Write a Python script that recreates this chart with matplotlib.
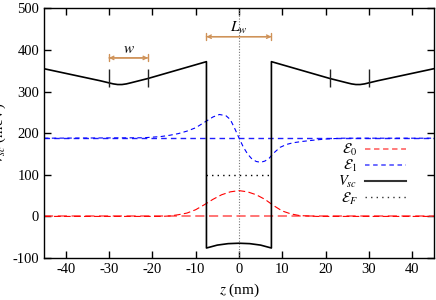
import matplotlib
matplotlib.use("Agg")
import matplotlib.pyplot as plt

plt.rcParams['font.family'] = ['Liberation Serif', 'DejaVu Serif']
plt.rcParams['mathtext.fontset'] = 'stix'
plt.rcParams['axes.unicode_minus'] = False

# self-consistent potential V_sc (meV)
vsc_z = [-45, -32, -30, -29, -28, -27, -26, -25, -21, -7.5, -7.5, -5, -2.5, 0,
         2.5, 5, 7.5, 7.5, 21, 25, 26, 27, 28, 29, 30, 32, 45]
vsc_v = [355, 326, 321, 318.5, 317, 317, 318.5, 321, 331.5, 372, -76, -69, -65.5, -64.5,
         -65.5, -69, -76, 372, 331.5, 321, 318.5, 317, 317, 318.5, 321, 326, 355]

# subband levels
E0 = 0
E1 = 188
EF = 100

# wavefunctions drawn on top of their level
psi0_z = [-45, -18, -16, -14, -12, -10, -8, -6, -4, -2, 0, 2, 4, 6, 8, 10, 12, 14, 16, 18, 45]
psi0_v = [0, 0, 1, 4, 8, 16, 28, 41, 52, 59, 62, 59, 52, 41, 26, 13, 6, 2, 1, 0, 0]

psi1_z = [-45, -22, -18, -16, -14, -12, -10, -8, -6, -4.5, -3, -2, -1, 0, 1, 2, 3,
          4, 5, 6, 7, 8, 9.5, 11, 12.5, 14.5, 17, 20, 24, 45]
psi1_v = [188, 189, 192, 195, 199, 205, 213, 226, 239, 245, 242, 233, 212, 189, 167,
          150, 138, 132, 130, 133, 140, 152, 166, 173, 177, 180, 183, 186, 188, 188]

# markers of the barrier width w and well width Lw
w_marks = [-30, -21, 21, 30]
w_span = (-30, -21)
lw_span = (-7.5, 7.5)
well_edges = (-7.5, 7.5)

orange = '#cf9258'

fig = plt.figure(figsize=(4.36, 3.0), dpi=100)
ax = fig.add_axes([0.101, 0.14, 0.894, 0.832])

ax.axvline(0, color='#777777', lw=0.8, ls=(0, (1, 1.5)))

ax.axhline(E0, color='#ff5050', lw=1.1, ls=(0, (6, 3)))
ax.plot(psi0_z, psi0_v, color='red', lw=0.8, ls=(0, (6, 3)))
ax.axhline(E1, color='#2020ff', lw=1.0, ls=(0, (4, 3)))
ax.plot(psi1_z, psi1_v, color='blue', lw=0.8, ls=(0, (4, 3)))

ax.plot(well_edges, [EF, EF], color='black', lw=1.0, ls=(0, (1, 3)))
ax.plot(vsc_z, vsc_v, color='black', lw=1.2)

ax.vlines(w_marks, 312, 355, color='#222222', lw=1.0)

for a, b, y, lab, ty in [(w_span[0], w_span[1], 381, '$w$', 402),
                         (lw_span[0], lw_span[1], 432, '$L_w$', 452)]:
    ax.annotate('', xy=(b, y), xytext=(a, y),
                arrowprops=dict(arrowstyle='<->', color=orange, lw=1.0,
                                shrinkA=0, shrinkB=0, mutation_scale=6))
    ax.annotate('', xy=(b, y), xytext=(a, y),
                arrowprops=dict(arrowstyle='|-|, widthA=0.25, widthB=0.25',
                                color=orange, lw=1.0, shrinkA=0, shrinkB=0))
    ax.text((a + b) / 2, ty, lab, ha='center', va='center', fontsize=11)

# legend proxies
h0, = ax.plot([], [], color='#ff7070', lw=1.3, ls=(0, (3, 2)))
h1, = ax.plot([], [], color='#6060ff', lw=1.3, ls=(0, (2.5, 2)))
h2, = ax.plot([], [], color='#333333', lw=1.5)
h3, = ax.plot([], [], color='#333333', lw=1.0, ls=(0, (1, 3)))
ax.legend([h0, h1, h2, h3],
          [r'$\mathcal{E}_0$', r'$\mathcal{E}_1$', r'$V_{sc}$', r'$\mathcal{E}_F$'],
          loc='upper right', bbox_to_anchor=(0.928, 0.464), frameon=False,
          markerfirst=False, fontsize=10.5, handlelength=2.8, handletextpad=0.5,
          labelspacing=0.0, borderpad=0, borderaxespad=0)

ax.set_xlim(-45, 45)
ax.set_ylim(-100, 500)
ax.set_xticks(range(-40, 41, 10))
ax.set_yticks(range(-100, 501, 100))
ax.tick_params(direction='in', top=True, right=True, length=5, width=1, labelsize=10.5)
for s in ax.spines.values():
    s.set_linewidth(1.0)

ax.set_xlabel('$z$ (nm)', fontsize=11, labelpad=4)
ax.set_ylabel('$V_{sc}$ (meV)', fontsize=10.5, labelpad=3)

fig.savefig('out.png', dpi=100)
